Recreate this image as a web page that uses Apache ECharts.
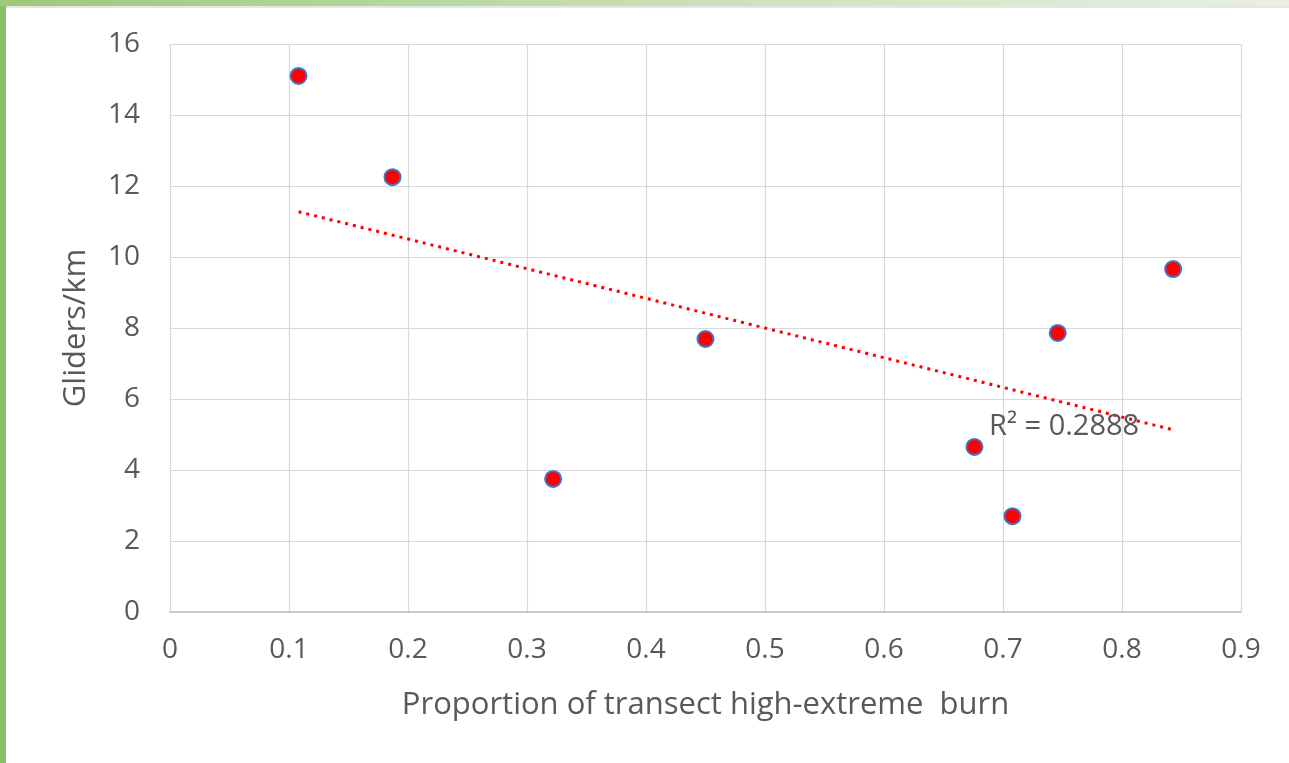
<!DOCTYPE html>
<html>
<head>
<meta charset="utf-8">
<script src="https://cdn.jsdelivr.net/npm/echarts@6/dist/echarts.min.js"></script>
<style>
html,body{margin:0;padding:0;background:#fff;}
#frame{position:absolute;left:0;top:0;width:1289px;height:763px;overflow:hidden;}
#leftbar{position:absolute;left:0;top:0;width:6px;height:763px;background:#8dbf67;}
#topbar{position:absolute;left:0;top:0;width:1289px;height:6px;background:linear-gradient(to right,#9cc97a,#cfe3bf 60%,#e8f0e2);}
#topline{position:absolute;left:6px;top:6px;width:1283px;height:2px;background:#e6e6e6;}
#chart{position:absolute;left:0;top:0;width:1289px;height:763px;}
</style>
</head>
<body>
<div id="frame">
<div id="chart"></div>
<div id="leftbar"></div>
<div id="topbar"></div>
<div id="topline"></div>
</div>
<script>
const xValues = [0.108, 0.187, 0.322, 0.450, 0.676, 0.708, 0.746, 0.843];
const yValues = [15.10, 12.25, 3.75, 7.69, 4.65, 2.70, 7.86, 9.66];
const xTicks = [0, 0.1, 0.2, 0.3, 0.4, 0.5, 0.6, 0.7, 0.8, 0.9];
const yTicks = [0, 2, 4, 6, 8, 10, 12, 14, 16];
const xTitle = 'Proportion of transect high-extreme  burn';
const yTitle = 'Gliders/km';
const r2Label = 'R² = 0.2888';

// least-squares trendline from the data
const n = xValues.length;
const mx = xValues.reduce((a, b) => a + b, 0) / n;
const my = yValues.reduce((a, b) => a + b, 0) / n;
let sxy = 0, sxx = 0;
for (let i = 0; i < n; i++) { sxy += (xValues[i] - mx) * (yValues[i] - my); sxx += (xValues[i] - mx) ** 2; }
const slope = sxy / sxx, icpt = my - slope * mx;
const xMin = Math.min(...xValues), xMax = Math.max(...xValues);
const trend = [[xMin, icpt + slope * xMin], [xMax, icpt + slope * xMax]];

const chart = echarts.init(document.getElementById('chart'), null, {renderer: 'canvas'});
const font = "'Open Sans', 'Noto Sans', sans-serif";
chart.setOption({
  animation: false,
  backgroundColor: '#fff',
  grid: {left: 170, right: 48, top: 44, bottom: 151},
  xAxis: {
    type: 'value', min: 0, max: 0.9, interval: 0.1,
    axisLine: {show: true, lineStyle: {color: '#bfbfbf', width: 1.5}},
    axisTick: {show: false},
    splitLine: {show: true, lineStyle: {color: '#d9d9d9', width: 1.2}},
    axisLabel: {color: '#595959', fontSize: 28, fontFamily: font, margin: 24,
      formatter: v => { const s = xTicks.find(t => Math.abs(t - v) < 1e-9); return s === undefined ? '' : String(s); }},
    name: xTitle, nameLocation: 'middle', nameGap: 78,
    nameTextStyle: {color: '#595959', fontSize: 31, fontFamily: font}
  },
  yAxis: {
    type: 'value', min: 0, max: 16, interval: 2,
    axisLine: {show: false},
    axisTick: {show: false},
    splitLine: {show: true, lineStyle: {color: '#d9d9d9', width: 1.2}},
    axisLabel: {color: '#595959', fontSize: 28, fontFamily: font, margin: 30,
      formatter: v => { const s = yTicks.find(t => Math.abs(t - v) < 1e-9); return s === undefined ? '' : String(s); }},
    name: yTitle, nameLocation: 'middle', nameGap: 78, nameRotate: 90,
    nameTextStyle: {color: '#595959', fontSize: 31, fontFamily: font}
  },
  series: [
    {
      type: 'line', data: trend, symbol: 'none', silent: true,
      lineStyle: {color: '#ff0000', width: 3, type: [3, 5]},
      z: 2
    },
    {
      type: 'scatter',
      data: xValues.map((x, i) => [x, yValues[i]]),
      symbol: 'circle', symbolSize: 16,
      itemStyle: {color: '#ff0000', opacity: 1, borderColor: '#4472c4', borderWidth: 2},
      z: 3
    }
  ],
  graphic: [{
    type: 'text', left: 989, top: 412, z: 10,
    style: {text: r2Label, fill: '#595959', fontSize: 29, fontFamily: font}
  }]
});
</script>
</body>
</html>
